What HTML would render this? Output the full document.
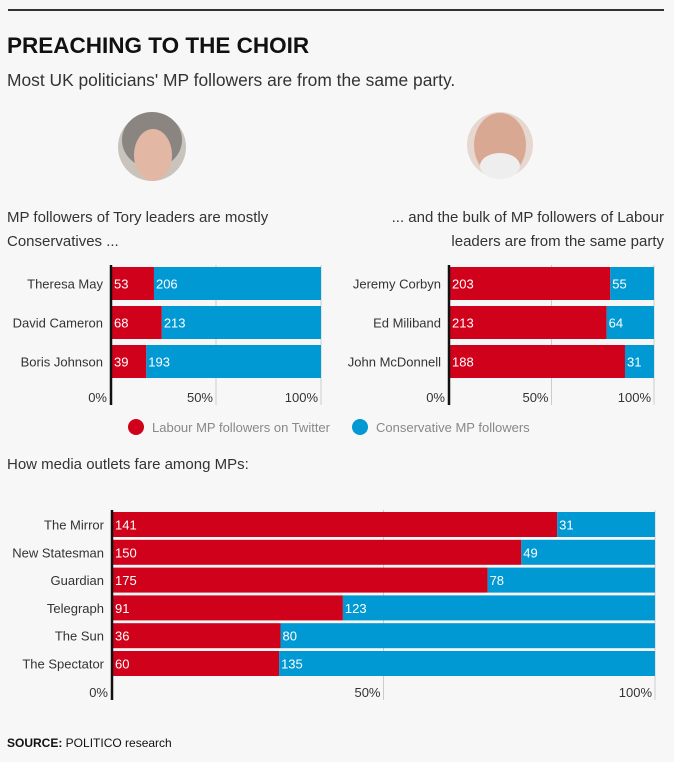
<!DOCTYPE html>
<html><head><meta charset="utf-8"><style>
body{margin:0;background:#f7f7f7;width:674px;height:762px;overflow:hidden;font-family:"Liberation Sans",sans-serif;}
svg{display:block}
</style></head><body>
<svg width="674" height="762" id="s">
<line x1="8" y1="10" x2="664" y2="10" stroke="#333" stroke-width="2"/>
<text x="7" y="53" font-size="22.5" font-weight="bold" fill="#111">PREACHING TO THE CHOIR</text>
<text x="7" y="86" font-size="17.4" fill="#333">Most UK politicians' MP followers are from the same party.</text>
<g>
<circle cx="152" cy="147" r="34" fill="#c9c3bd"/>
<ellipse cx="152" cy="140" rx="30" ry="28" fill="#8a8580"/>
<ellipse cx="153" cy="155" rx="19" ry="26" fill="#e2b8a4"/>
</g>
<g>
<circle cx="500" cy="145" r="33" fill="#e6d8d0"/>
<ellipse cx="500" cy="145" rx="26" ry="32" fill="#d9a893"/>
<ellipse cx="500" cy="166" rx="20" ry="13" fill="#eee"/>
</g>
<text x="7" y="222" font-size="15" fill="#333">MP followers of Tory leaders are mostly</text>
<text x="7" y="246" font-size="15" fill="#333">Conservatives ...</text>
<text x="664" y="222" font-size="15" fill="#333" text-anchor="end">... and the bulk of MP followers of Labour</text>
<text x="664" y="246" font-size="15" fill="#333" text-anchor="end">leaders are from the same party</text>
<g>
<circle cx="136" cy="427" r="8" fill="#d0021b"/>
<text x="152" y="432" font-size="13" fill="#888">Labour MP followers on Twitter</text>
<circle cx="360" cy="427" r="8" fill="#0099d3"/>
<text x="376" y="432" font-size="13" fill="#888">Conservative MP followers</text>
</g>
<text x="7" y="469" font-size="15" fill="#333">How media outlets fare among MPs:</text>
<text x="7" y="747" font-size="12" fill="#111"><tspan font-weight="bold">SOURCE:</tspan> POLITICO research</text>
</svg>
<script>
const toryNames=["Theresa May","David Cameron","Boris Johnson"];
const toryLab=[53,68,39];
const toryCon=[206,213,193];
const labNames=["Jeremy Corbyn","Ed Miliband","John McDonnell"];
const labLab=[203,213,188];
const labCon=[55,64,31];
const mediaNames=["The Mirror","New Statesman","Guardian","Telegraph","The Sun","The Spectator"];
const mediaLab=[141,150,175,91,36,60];
const mediaCon=[31,49,78,123,80,135];
const ticks=["0%","50%","100%"];
const NS="http://www.w3.org/2000/svg";
const svg=document.getElementById('s');
function mk(tag,attrs,parent){const e=document.createElementNS(NS,tag);for(const k in attrs)e.setAttribute(k,attrs[k]);(parent||svg).appendChild(e);return e;}
function panel(name,names,lab,con,x0,w,y0,step,bh,axisTop,axisBot,tickY){
  const g=mk('g',{});
  
  
  const xs=p=>x0+p*w;
  ticks.forEach((t,i)=>{
    const x=xs(i/2);
    if(i>0){const l=mk('line',{x1:x,x2:x,y1:axisTop,y2:axisBot,stroke:'#ccc','stroke-width':1},g);
      
      }
    const tx=mk('text',{x:i===0?x-4:x-3,y:tickY,'font-size':13,fill:'#333','text-anchor':'end'},g);
    tx.textContent=t;
    
    
  });
  names.forEach((n,i)=>{
    const y=y0+i*step;const p=lab[i]/(lab[i]+con[i]);
    const r1=mk('rect',{x:xs(0),y:y,width:xs(p)-xs(0),height:bh,fill:'#d0021b'},g);
    
    
    const r2=mk('rect',{x:xs(p),y:y,width:xs(1)-xs(p),height:bh,fill:'#0099d3'},g);
    
    
    const ty=y+bh/2+5;
    const a=mk('text',{x:xs(0)+3,y:ty,'font-size':13,fill:'#fff'},g);a.textContent=lab[i];
    
    
    const b=mk('text',{x:xs(p)+2,y:ty,'font-size':13,fill:'#fff'},g);b.textContent=con[i];
    
    
    const c=mk('text',{x:x0-8,y:ty,'font-size':13,fill:'#333','text-anchor':'end'},g);c.textContent=n;
    
    
  });
  const ax=mk('line',{x1:x0,x2:x0,y1:axisTop,y2:axisBot,stroke:'#111','stroke-width':2.5},g);
  
  
}
panel('tory-leaders-chart',toryNames,toryLab,toryCon,111,210,267,39,33,265,405,402);
panel('labour-leaders-chart',labNames,labLab,labCon,449,205,267,39,33,265,405,402);
panel('media-outlets-chart',mediaNames,mediaLab,mediaCon,112,543,512,27.8,25,510,700,697);
</script>
</body></html>
